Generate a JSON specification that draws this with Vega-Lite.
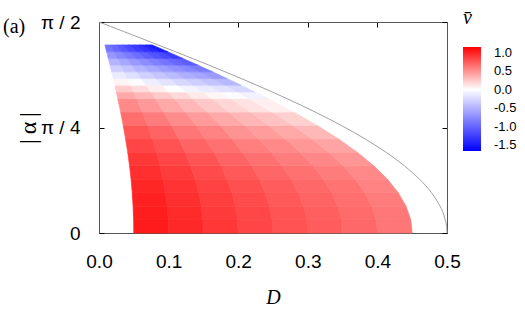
{
"$schema": "https://vega.github.io/schema/vega-lite/v6.json",
"width": 348, "height": 211,
"autosize": {"type": "none"},
"padding": {"left": 99, "top": 22, "right": 78, "bottom": 78},
"background": "white",
"title": {"text": "(a)", "anchor": "start", "frame": "group", "orient": "top", "dx": -96, "dy": 45, "offset": 0, "baseline": "alphabetic", "font": "Liberation Serif", "fontSize": 20, "fontWeight": "normal", "color": "#000"},
"config": {"view": {"stroke": null}, "axis": {"grid": false, "domainColor": "#555", "domainWidth": 1, "tickColor": "#000", "tickSize": -5, "labelColor": "#000", "titleColor": "#000", "labelFont": "Liberation Sans", "labelFontSize": 19, "labelOverlap": false, "labelFlush": false}},
"datasets": {
"cells": [
{"c":0,"v":1.03,"a":[0,0.1],"l":[0.05,0.0498],"h":[0.1,0.0995]},
{"c":1,"v":0.97,"a":[0,0.1],"l":[0.1,0.0995],"h":[0.15,0.1493]},
{"c":2,"v":0.9,"a":[0,0.1],"l":[0.15,0.1493],"h":[0.2,0.199]},
{"c":3,"v":0.84,"a":[0,0.1],"l":[0.2,0.199],"h":[0.25,0.2488]},
{"c":4,"v":0.78,"a":[0,0.1],"l":[0.25,0.2488],"h":[0.3,0.2985]},
{"c":5,"v":0.73,"a":[0,0.1],"l":[0.3,0.2985],"h":[0.35,0.3483]},
{"c":6,"v":0.68,"a":[0,0.1],"l":[0.35,0.3483],"h":[0.4,0.398]},
{"c":7,"v":0.62,"a":[0,0.1],"l":[0.4,0.398],"h":[0.45,0.4478]},
{"c":8,"v":1.02,"a":[0.1,0.2],"l":[0.0498,0.049],"h":[0.0995,0.098]},
{"c":9,"v":0.96,"a":[0.1,0.2],"l":[0.0995,0.098],"h":[0.1493,0.147]},
{"c":10,"v":0.89,"a":[0.1,0.2],"l":[0.1493,0.147],"h":[0.199,0.196]},
{"c":11,"v":0.83,"a":[0.1,0.2],"l":[0.199,0.196],"h":[0.2488,0.245]},
{"c":12,"v":0.77,"a":[0.1,0.2],"l":[0.2488,0.245],"h":[0.2985,0.294]},
{"c":13,"v":0.72,"a":[0.1,0.2],"l":[0.2985,0.294],"h":[0.3483,0.343]},
{"c":14,"v":0.67,"a":[0.1,0.2],"l":[0.3483,0.343],"h":[0.398,0.392]},
{"c":15,"v":0.61,"a":[0.1,0.2],"l":[0.398,0.392],"h":[0.4478,0.441]},
{"c":16,"v":1.0,"a":[0.2,0.3],"l":[0.049,0.0478],"h":[0.098,0.0955]},
{"c":17,"v":0.94,"a":[0.2,0.3],"l":[0.098,0.0955],"h":[0.147,0.1433]},
{"c":18,"v":0.87,"a":[0.2,0.3],"l":[0.147,0.1433],"h":[0.196,0.1911]},
{"c":19,"v":0.81,"a":[0.2,0.3],"l":[0.196,0.1911],"h":[0.245,0.2388]},
{"c":20,"v":0.75,"a":[0.2,0.3],"l":[0.245,0.2388],"h":[0.294,0.2866]},
{"c":21,"v":0.7,"a":[0.2,0.3],"l":[0.294,0.2866],"h":[0.343,0.3344]},
{"c":22,"v":0.65,"a":[0.2,0.3],"l":[0.343,0.3344],"h":[0.392,0.3821]},
{"c":23,"v":0.59,"a":[0.2,0.3],"l":[0.392,0.3821],"h":[0.441,0.4299]},
{"c":24,"v":0.98,"a":[0.3,0.4],"l":[0.0478,0.0461],"h":[0.0955,0.0921]},
{"c":25,"v":0.92,"a":[0.3,0.4],"l":[0.0955,0.0921],"h":[0.1433,0.1382]},
{"c":26,"v":0.85,"a":[0.3,0.4],"l":[0.1433,0.1382],"h":[0.1911,0.1842]},
{"c":27,"v":0.79,"a":[0.3,0.4],"l":[0.1911,0.1842],"h":[0.2388,0.2303]},
{"c":28,"v":0.73,"a":[0.3,0.4],"l":[0.2388,0.2303],"h":[0.2866,0.2763]},
{"c":29,"v":0.68,"a":[0.3,0.4],"l":[0.2866,0.2763],"h":[0.3344,0.3224]},
{"c":30,"v":0.63,"a":[0.3,0.4],"l":[0.3344,0.3224],"h":[0.3821,0.3684]},
{"c":31,"v":0.56,"a":[0.3,0.4],"l":[0.3821,0.3684],"h":[0.4299,0.4145]},
{"c":32,"v":0.94,"a":[0.4,0.5],"l":[0.0461,0.0439],"h":[0.0921,0.0878]},
{"c":33,"v":0.88,"a":[0.4,0.5],"l":[0.0921,0.0878],"h":[0.1382,0.1316]},
{"c":34,"v":0.81,"a":[0.4,0.5],"l":[0.1382,0.1316],"h":[0.1842,0.1755]},
{"c":35,"v":0.75,"a":[0.4,0.5],"l":[0.1842,0.1755],"h":[0.2303,0.2194]},
{"c":36,"v":0.69,"a":[0.4,0.5],"l":[0.2303,0.2194],"h":[0.2763,0.2633]},
{"c":37,"v":0.64,"a":[0.4,0.5],"l":[0.2763,0.2633],"h":[0.3224,0.3072]},
{"c":38,"v":0.59,"a":[0.4,0.5],"l":[0.3224,0.3072],"h":[0.3684,0.351]},
{"c":39,"v":0.53,"a":[0.4,0.5],"l":[0.3684,0.351],"h":[0.4145,0.3949]},
{"c":40,"v":0.9,"a":[0.5,0.6],"l":[0.0439,0.0413],"h":[0.0878,0.0825]},
{"c":41,"v":0.84,"a":[0.5,0.6],"l":[0.0878,0.0825],"h":[0.1316,0.1238]},
{"c":42,"v":0.77,"a":[0.5,0.6],"l":[0.1316,0.1238],"h":[0.1755,0.1651]},
{"c":43,"v":0.7,"a":[0.5,0.6],"l":[0.1755,0.1651],"h":[0.2194,0.2063]},
{"c":44,"v":0.64,"a":[0.5,0.6],"l":[0.2194,0.2063],"h":[0.2633,0.2476]},
{"c":45,"v":0.59,"a":[0.5,0.6],"l":[0.2633,0.2476],"h":[0.3072,0.2889]},
{"c":46,"v":0.54,"a":[0.5,0.6],"l":[0.3072,0.2889],"h":[0.351,0.3301]},
{"c":47,"v":0.48,"a":[0.5,0.6],"l":[0.351,0.3301],"h":[0.3949,0.3714]},
{"c":48,"v":0.84,"a":[0.6,0.7],"l":[0.0413,0.0382],"h":[0.0825,0.0765]},
{"c":49,"v":0.78,"a":[0.6,0.7],"l":[0.0825,0.0765],"h":[0.1238,0.1147]},
{"c":50,"v":0.7,"a":[0.6,0.7],"l":[0.1238,0.1147],"h":[0.1651,0.153]},
{"c":51,"v":0.64,"a":[0.6,0.7],"l":[0.1651,0.153],"h":[0.2063,0.1912]},
{"c":52,"v":0.58,"a":[0.6,0.7],"l":[0.2063,0.1912],"h":[0.2476,0.2295]},
{"c":53,"v":0.53,"a":[0.6,0.7],"l":[0.2476,0.2295],"h":[0.2889,0.2677]},
{"c":54,"v":0.47,"a":[0.6,0.7],"l":[0.2889,0.2677],"h":[0.3301,0.3059]},
{"c":55,"v":0.41,"a":[0.6,0.7],"l":[0.3301,0.3059],"h":[0.3714,0.3442]},
{"c":56,"v":0.76,"a":[0.7,0.8],"l":[0.0382,0.0348],"h":[0.0765,0.0697]},
{"c":57,"v":0.7,"a":[0.7,0.8],"l":[0.0765,0.0697],"h":[0.1147,0.1045]},
{"c":58,"v":0.62,"a":[0.7,0.8],"l":[0.1147,0.1045],"h":[0.153,0.1393]},
{"c":59,"v":0.56,"a":[0.7,0.8],"l":[0.153,0.1393],"h":[0.1912,0.1742]},
{"c":60,"v":0.49,"a":[0.7,0.8],"l":[0.1912,0.1742],"h":[0.2295,0.209]},
{"c":61,"v":0.44,"a":[0.7,0.8],"l":[0.2295,0.209],"h":[0.2677,0.2438]},
{"c":62,"v":0.39,"a":[0.7,0.8],"l":[0.2677,0.2438],"h":[0.3059,0.2787]},
{"c":63,"v":0.32,"a":[0.7,0.8],"l":[0.3059,0.2787],"h":[0.3442,0.3135]},
{"c":64,"v":0.66,"a":[0.8,0.9],"l":[0.0348,0.0311],"h":[0.0697,0.0622]},
{"c":65,"v":0.59,"a":[0.8,0.9],"l":[0.0697,0.0622],"h":[0.1045,0.0932]},
{"c":66,"v":0.52,"a":[0.8,0.9],"l":[0.1045,0.0932],"h":[0.1393,0.1243]},
{"c":67,"v":0.45,"a":[0.8,0.9],"l":[0.1393,0.1243],"h":[0.1742,0.1554]},
{"c":68,"v":0.39,"a":[0.8,0.9],"l":[0.1742,0.1554],"h":[0.209,0.1865]},
{"c":69,"v":0.33,"a":[0.8,0.9],"l":[0.209,0.1865],"h":[0.2438,0.2176]},
{"c":70,"v":0.28,"a":[0.8,0.9],"l":[0.2438,0.2176],"h":[0.2787,0.2486]},
{"c":71,"v":0.21,"a":[0.8,0.9],"l":[0.2787,0.2486],"h":[0.3135,0.2797]},
{"c":72,"v":0.53,"a":[0.9,1.0],"l":[0.0311,0.027],"h":[0.0622,0.054]},
{"c":73,"v":0.46,"a":[0.9,1.0],"l":[0.0622,0.054],"h":[0.0932,0.081]},
{"c":74,"v":0.39,"a":[0.9,1.0],"l":[0.0932,0.081],"h":[0.1243,0.1081]},
{"c":75,"v":0.32,"a":[0.9,1.0],"l":[0.1243,0.1081],"h":[0.1554,0.1351]},
{"c":76,"v":0.25,"a":[0.9,1.0],"l":[0.1554,0.1351],"h":[0.1865,0.1621]},
{"c":77,"v":0.19,"a":[0.9,1.0],"l":[0.1865,0.1621],"h":[0.2176,0.1891]},
{"c":78,"v":0.13,"a":[0.9,1.0],"l":[0.2176,0.1891],"h":[0.2486,0.2161]},
{"c":79,"v":0.07,"a":[0.9,1.0],"l":[0.2486,0.2161],"h":[0.2797,0.2431]},
{"c":80,"v":0.39,"a":[1.0,1.05],"l":[0.027,0.0249],"h":[0.054,0.0498]},
{"c":81,"v":0.32,"a":[1.0,1.05],"l":[0.054,0.0498],"h":[0.081,0.0746]},
{"c":82,"v":0.24,"a":[1.0,1.05],"l":[0.081,0.0746],"h":[0.1081,0.0995]},
{"c":83,"v":0.17,"a":[1.0,1.05],"l":[0.1081,0.0995],"h":[0.1351,0.1244]},
{"c":84,"v":0.1,"a":[1.0,1.05],"l":[0.1351,0.1244],"h":[0.1621,0.1493]},
{"c":85,"v":0.04,"a":[1.0,1.05],"l":[0.1621,0.1493],"h":[0.1891,0.1741]},
{"c":86,"v":-0.02,"a":[1.0,1.05],"l":[0.1891,0.1741],"h":[0.2161,0.199]},
{"c":87,"v":-0.09,"a":[1.0,1.05],"l":[0.2161,0.199],"h":[0.2431,0.2239]},
{"c":88,"v":0.23,"a":[1.05,1.1],"l":[0.0249,0.0227],"h":[0.0498,0.0454]},
{"c":89,"v":0.16,"a":[1.05,1.1],"l":[0.0498,0.0454],"h":[0.0746,0.068]},
{"c":90,"v":0.08,"a":[1.05,1.1],"l":[0.0746,0.068],"h":[0.0995,0.0907]},
{"c":91,"v":0.0,"a":[1.05,1.1],"l":[0.0995,0.0907],"h":[0.1244,0.1134]},
{"c":92,"v":-0.07,"a":[1.05,1.1],"l":[0.1244,0.1134],"h":[0.1493,0.1361]},
{"c":93,"v":-0.13,"a":[1.05,1.1],"l":[0.1493,0.1361],"h":[0.1741,0.1588]},
{"c":94,"v":-0.19,"a":[1.05,1.1],"l":[0.1741,0.1588],"h":[0.199,0.1814]},
{"c":95,"v":-0.26,"a":[1.05,1.1],"l":[0.199,0.1814],"h":[0.2239,0.2041]},
{"c":96,"v":0.05,"a":[1.1,1.15],"l":[0.0227,0.0204],"h":[0.0454,0.0408]},
{"c":97,"v":-0.02,"a":[1.1,1.15],"l":[0.0454,0.0408],"h":[0.068,0.0613]},
{"c":98,"v":-0.11,"a":[1.1,1.15],"l":[0.068,0.0613],"h":[0.0907,0.0817]},
{"c":99,"v":-0.18,"a":[1.1,1.15],"l":[0.0907,0.0817],"h":[0.1134,0.1021]},
{"c":100,"v":-0.26,"a":[1.1,1.15],"l":[0.1134,0.1021],"h":[0.1361,0.1225]},
{"c":101,"v":-0.32,"a":[1.1,1.15],"l":[0.1361,0.1225],"h":[0.1588,0.143]},
{"c":102,"v":-0.39,"a":[1.1,1.15],"l":[0.1588,0.143],"h":[0.1814,0.1634]},
{"c":103,"v":-0.46,"a":[1.1,1.15],"l":[0.1814,0.1634],"h":[0.2041,0.1838]},
{"c":104,"v":-0.13,"a":[1.15,1.2],"l":[0.0204,0.0181],"h":[0.0408,0.0362]},
{"c":105,"v":-0.21,"a":[1.15,1.2],"l":[0.0408,0.0362],"h":[0.0613,0.0544]},
{"c":106,"v":-0.3,"a":[1.15,1.2],"l":[0.0613,0.0544],"h":[0.0817,0.0725]},
{"c":107,"v":-0.37,"a":[1.15,1.2],"l":[0.0817,0.0725],"h":[0.1021,0.0906]},
{"c":108,"v":-0.45,"a":[1.15,1.2],"l":[0.1021,0.0906],"h":[0.1225,0.1087]},
{"c":109,"v":-0.52,"a":[1.15,1.2],"l":[0.1225,0.1087],"h":[0.143,0.1268]},
{"c":110,"v":-0.58,"a":[1.15,1.2],"l":[0.143,0.1268],"h":[0.1634,0.1449]},
{"c":111,"v":-0.66,"a":[1.15,1.2],"l":[0.1634,0.1449],"h":[0.1838,0.1631]},
{"c":112,"v":-0.31,"a":[1.2,1.25],"l":[0.0181,0.0158],"h":[0.0362,0.0315]},
{"c":113,"v":-0.39,"a":[1.2,1.25],"l":[0.0362,0.0315],"h":[0.0544,0.0473]},
{"c":114,"v":-0.48,"a":[1.2,1.25],"l":[0.0544,0.0473],"h":[0.0725,0.0631]},
{"c":115,"v":-0.56,"a":[1.2,1.25],"l":[0.0725,0.0631],"h":[0.0906,0.0788]},
{"c":116,"v":-0.64,"a":[1.2,1.25],"l":[0.0906,0.0788],"h":[0.1087,0.0946]},
{"c":117,"v":-0.71,"a":[1.2,1.25],"l":[0.1087,0.0946],"h":[0.1268,0.1104]},
{"c":118,"v":-0.78,"a":[1.2,1.25],"l":[0.1268,0.1104],"h":[0.1449,0.1261]},
{"c":119,"v":-0.86,"a":[1.2,1.25],"l":[0.1449,0.1261],"h":[0.1631,0.1419]},
{"c":120,"v":-0.49,"a":[1.25,1.3],"l":[0.0158,0.0134],"h":[0.0315,0.0268]},
{"c":121,"v":-0.57,"a":[1.25,1.3],"l":[0.0315,0.0268],"h":[0.0473,0.0401]},
{"c":122,"v":-0.67,"a":[1.25,1.3],"l":[0.0473,0.0401],"h":[0.0631,0.0535]},
{"c":123,"v":-0.75,"a":[1.25,1.3],"l":[0.0631,0.0535],"h":[0.0788,0.0669]},
{"c":124,"v":-0.83,"a":[1.25,1.3],"l":[0.0788,0.0669],"h":[0.0946,0.0803]},
{"c":125,"v":-0.9,"a":[1.25,1.3],"l":[0.0946,0.0803],"h":[0.1104,0.0936]},
{"c":126,"v":-0.98,"a":[1.25,1.3],"l":[0.1104,0.0936],"h":[0.1261,0.107]},
{"c":127,"v":-1.06,"a":[1.25,1.3],"l":[0.1261,0.107],"h":[0.1419,0.1204]},
{"c":128,"v":-0.68,"a":[1.3,1.35],"l":[0.0134,0.011],"h":[0.0268,0.0219]},
{"c":129,"v":-0.77,"a":[1.3,1.35],"l":[0.0268,0.0219],"h":[0.0401,0.0329]},
{"c":130,"v":-0.86,"a":[1.3,1.35],"l":[0.0401,0.0329],"h":[0.0535,0.0438]},
{"c":131,"v":-0.95,"a":[1.3,1.35],"l":[0.0535,0.0438],"h":[0.0669,0.0548]},
{"c":132,"v":-1.03,"a":[1.3,1.35],"l":[0.0669,0.0548],"h":[0.0803,0.0657]},
{"c":133,"v":-1.11,"a":[1.3,1.35],"l":[0.0803,0.0657],"h":[0.0936,0.0767]},
{"c":134,"v":-1.18,"a":[1.3,1.35],"l":[0.0936,0.0767],"h":[0.107,0.0876]},
{"c":135,"v":-1.27,"a":[1.3,1.35],"l":[0.107,0.0876],"h":[0.1204,0.0986]},
{"c":136,"v":-0.89,"a":[1.35,1.4],"l":[0.011,0.0085],"h":[0.0219,0.017]},
{"c":137,"v":-0.98,"a":[1.35,1.4],"l":[0.0219,0.017],"h":[0.0329,0.0255]},
{"c":138,"v":-1.08,"a":[1.35,1.4],"l":[0.0329,0.0255],"h":[0.0438,0.034]},
{"c":139,"v":-1.17,"a":[1.35,1.4],"l":[0.0438,0.034],"h":[0.0548,0.0425]},
{"c":140,"v":-1.26,"a":[1.35,1.4],"l":[0.0548,0.0425],"h":[0.0657,0.051]},
{"c":141,"v":-1.33,"a":[1.35,1.4],"l":[0.0657,0.051],"h":[0.0767,0.0595]},
{"c":142,"v":-1.41,"a":[1.35,1.4],"l":[0.0767,0.0595],"h":[0.0876,0.068]},
{"c":143,"v":-1.5,"a":[1.35,1.4],"l":[0.0876,0.068],"h":[0.0986,0.0765]}
],
"curve": [
{"a":0,"d":0.5},{"a":0.05,"d":0.4994},{"a":0.1,"d":0.4975},{"a":0.15,"d":0.4944},{"a":0.2,"d":0.49},{"a":0.3,"d":0.4777},{"a":0.4,"d":0.4605},{"a":0.5,"d":0.4388},{"a":0.6,"d":0.4127},{"a":0.7,"d":0.3824},{"a":0.8,"d":0.3484},{"a":0.9,"d":0.3108},{"a":1.0,"d":0.2702},{"a":1.1,"d":0.2268},{"a":1.2,"d":0.1812},{"a":1.3,"d":0.1338},{"a":1.4,"d":0.085},{"a":1.5,"d":0.0354},{"a":1.5708,"d":0}
]
},
"layer": [
{
"data": {"name": "cells"},
"transform": [{"flatten": ["a", "l", "h"]}],
"mark": {"type": "area", "orient": "horizontal", "stroke": {"expr": "scale('color', datum.v)"}, "strokeWidth": 0.7},
"encoding": {
"y": {"field": "a", "type": "quantitative", "scale": {"domain": [0, 1.5708], "nice": false, "zero": false},
 "axis": {"orient": "left", "values": [0, 0.7854, 1.5708], "labelExpr": "datum.value < 0.1 ? '0' : (datum.value < 1 ? 'π / 4' : 'π / 2')", "labelPadding": 24, "title": "|\u2009α\u2009|", "titleFont": "Liberation Serif", "titleFontSize": 24, "titleFontWeight": "normal", "titleX": -71, "titleY": 105.5, "titleBaseline": "middle", "titleAngle": -90}},
"x": {"field": "l", "type": "quantitative", "scale": {"domain": [0, 0.5], "nice": false},
 "axis": {"orient": "bottom", "values": [0, 0.1, 0.2, 0.3, 0.4, 0.5], "format": ".1f", "labelPadding": 24, "title": "D", "titleFont": "Liberation Serif", "titleFontStyle": "italic", "titleFontSize": 20, "titleFontWeight": "normal", "titleY": 70, "titleBaseline": "alphabetic"}},
"x2": {"field": "h"},
"detail": {"field": "c", "type": "nominal"},
"color": {"field": "v", "type": "quantitative",
 "scale": {"domain": [-1.66, 0, 1.15], "range": ["#0000ff", "#ffffff", "#ff0000"], "interpolate": "rgb"},
 "legend": {"type": "gradient", "title": "\u2005v\u0304", "orient": "none", "legendX": 364, "legendY": -14, "direction": "vertical", "padding": 0, "gradientLength": 104, "gradientThickness": 18, "gradientStrokeWidth": 0, "values": [-1.5, -1, -0.5, 0, 0.5, 1], "labelExpr": "datum.value < 0 ? '-' + format(-datum.value, '.1f') : format(datum.value, '.1f')", "labelFont": "Liberation Sans", "labelFontSize": 13, "labelColor": "#000", "labelOffset": 13, "titleFont": "Liberation Serif", "titleFontStyle": "italic", "titleFontSize": 20, "titleFontWeight": "normal", "titleColor": "#000", "titlePadding": 19}}
}
},
{
"data": {"name": "curve"},
"mark": {"type": "line", "color": "#a0a0a0", "strokeWidth": 1, "interpolate": "natural"},
"encoding": {
"x": {"field": "d", "type": "quantitative", "scale": {"domain": [0, 0.5], "nice": false},
 "axis": {"orient": "top", "values": [0, 0.1, 0.2, 0.3, 0.4, 0.5], "labels": false, "title": null}},
"y": {"field": "a", "type": "quantitative", "scale": {"domain": [0, 1.5708], "nice": false, "zero": false},
 "axis": {"orient": "right", "values": [0, 0.7854, 1.5708], "labels": false, "title": null}},
"order": {"field": "a", "type": "quantitative"}
}
}
],
"resolve": {"axis": {"x": "independent", "y": "independent"}}
}
